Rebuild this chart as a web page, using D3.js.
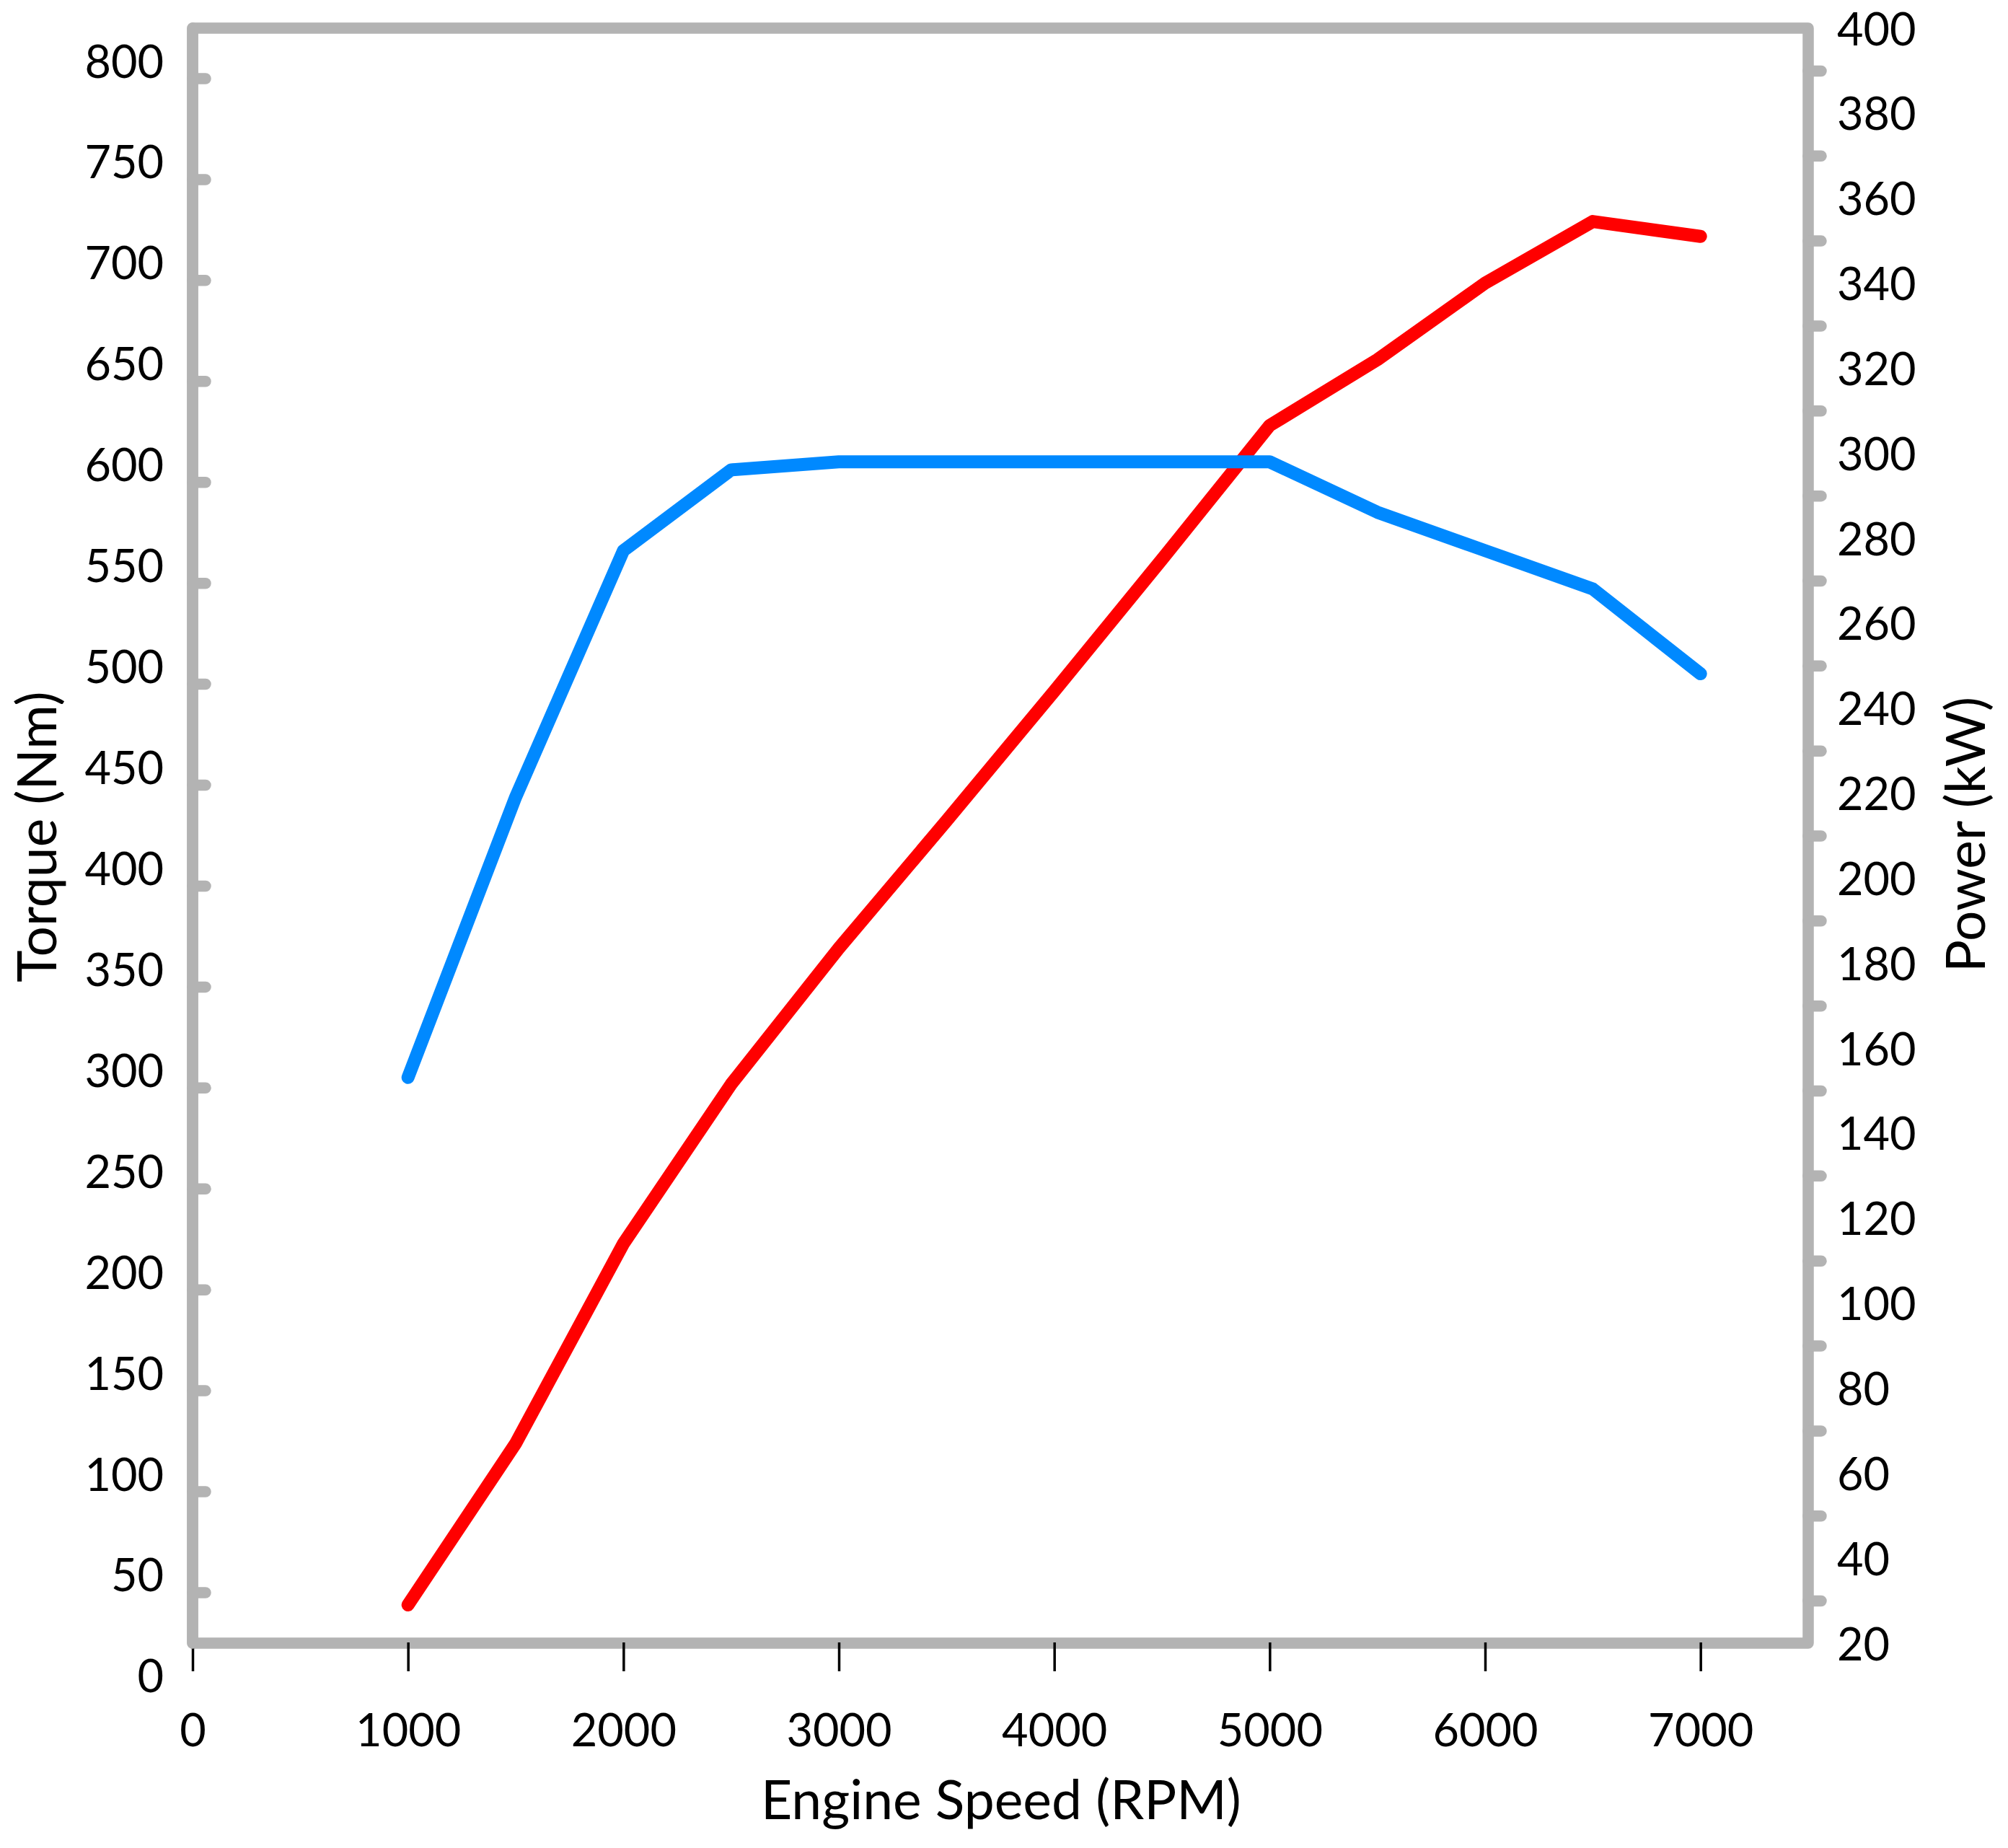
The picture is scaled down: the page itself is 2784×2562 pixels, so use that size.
<!DOCTYPE html>
<html>
<head>
<meta charset="utf-8">
<script src="https://cdn.jsdelivr.net/npm/d3@7"></script>
<style>
    body { margin: 0; background: white; }
    text { font-family: Lato, "Open Sans", sans-serif; fill: black; }
</style>
</head>
<body>
<div id="chart"></div>
<script>
// Engine speed (RPM) sample points
var rpm = [1000, 1500, 2000, 2500, 3000, 3500, 4000, 4500, 5000, 5500, 6000, 6500, 7000];
// Torque curve (Nm), left axis
var torqueNm = [305, 444, 566, 606, 610, 610, 610, 610, 610, 585, 566, 547, 505];
// Power curve (kW), right axis
var powerKw = [29, 67, 114, 151.5, 183.5, 213.5, 244, 275, 306.5, 322, 340, 354.5, 351];

// Tick labels
var rpmTicks = [0, 1000, 2000, 3000, 4000, 5000, 6000, 7000];
var torqueTicks = [0, 50, 100, 150, 200, 250, 300, 350, 400, 450, 500, 550, 600, 650, 700, 750, 800];
var torqueStubs = [50, 100, 150, 200, 250, 300, 350, 400, 450, 500, 550, 600, 650, 700, 750, 800];
var powerTicks = [20, 40, 60, 80, 100, 120, 140, 160, 180, 200, 220, 240, 260, 280, 300, 320, 340, 360, 380, 400];
var powerStubs = [30, 50, 70, 90, 110, 130, 150, 170, 190, 210, 230, 250, 270, 290, 310, 330, 350, 370, 390];

var width = 2784;
var height = 2562;
var frameColor = "#b3b3b3";
var frameWidth = 15.5;

var svg = d3.select("#chart").append("svg")
    .attr("width", width)
    .attr("height", height);

svg.append("rect")
    .attr("width", width)
    .attr("height", height)
    .attr("fill", "white");

// Scales
var x = d3.scaleLinear().domain([0, 7500]).range([267, 2507]);
var yTorque = d3.scaleLinear().domain([0, 800]).range([2347.4, 108.5]);
var yPower = d3.scaleLinear().domain([20, 400]).range([2278, 39]);

// plot box edges (don't call these top/left, they clash with window props)
var boxLeft = x(0), boxRight = x(7500), boxTop = yPower(400), boxBottom = yPower(20);

// Gray frame around the plot
svg.append("path")
    .attr("d", `M${boxLeft},${boxTop}H${boxRight}V${boxBottom}H${boxLeft}Z`)
    .attr("fill", "none")
    .attr("stroke", frameColor)
    .attr("stroke-width", frameWidth)
    .attr("stroke-linejoin", "round");

// Small gray stubs on the left axis (pointing into the plot)
var leftStubs = svg.append("g")
    .attr("transform", `translate(${boxLeft},0)`)
    .call(d3.axisRight(yTorque).tickValues(torqueStubs).tickSize(18).tickFormat(""));
leftStubs.select(".domain").remove();
leftStubs.selectAll("line")
    .attr("stroke", frameColor)
    .attr("stroke-width", frameWidth)
    .attr("stroke-linecap", "round");

// Small gray stubs on the right axis (pointing out)
var rightStubs = svg.append("g")
    .attr("transform", `translate(${boxRight},0)`)
    .call(d3.axisRight(yPower).tickValues(powerStubs).tickSize(18).tickFormat(""));
rightStubs.select(".domain").remove();
rightStubs.selectAll("line")
    .attr("stroke", frameColor)
    .attr("stroke-width", frameWidth)
    .attr("stroke-linecap", "round");

// Left labels (torque)
var leftAxis = svg.append("g")
    .attr("transform", "translate(227,0)")
    .call(d3.axisLeft(yTorque).tickValues(torqueTicks).tickSize(0).tickPadding(0).tickFormat(d3.format("d")));
leftAxis.select(".domain").remove();
leftAxis.selectAll("text")
    .attr("x", 0)
    .attr("dy", "-1.5")
    .attr("font-size", 63)
    .attr("font-family", "Lato");

// Right labels (power)
var rightAxis = svg.append("g")
    .attr("transform", "translate(2547,0)")
    .call(d3.axisRight(yPower).tickValues(powerTicks).tickSize(0).tickPadding(0).tickFormat(d3.format("d")));
rightAxis.select(".domain").remove();
rightAxis.selectAll("text")
    .attr("x", 0)
    .attr("dy", "23")
    .attr("font-size", 63)
    .attr("font-family", "Lato");

// Line generators
var torqueLine = d3.line()
    .x((d, i) => x(rpm[i]))
    .y(d => yTorque(d));

var powerLine = d3.line()
    .x((d, i) => x(rpm[i]))
    .y(d => yPower(d));

svg.append("path")
    .datum(powerKw)
    .attr("d", powerLine)
    .attr("fill", "none")
    .attr("stroke", "#ff0000")
    .attr("stroke-width", 18)
    .attr("stroke-linecap", "round")
    .attr("stroke-linejoin", "round");

svg.append("path")
    .datum(torqueNm)
    .attr("d", torqueLine)
    .attr("fill", "none")
    .attr("stroke", "#0089ff")
    .attr("stroke-width", 18)
    .attr("stroke-linecap", "round")
    .attr("stroke-linejoin", "round");

// Bottom axis: black ticks below the frame
var xAxis = svg.append("g")
    .attr("transform", "translate(0,2277)")
    .call(d3.axisBottom(x).tickValues(rpmTicks).tickSize(40).tickPadding(0).tickFormat(d3.format("d")));
xAxis.select(".domain").remove();
xAxis.selectAll("line")
    .attr("stroke", "black")
    .attr("stroke-width", 3.5);
xAxis.selectAll("text")
    .attr("y", 144)
    .attr("dy", 0)
    .attr("font-size", 63)
    .attr("font-family", "Lato");

// left edge of frame on top so the 0 tick starts below it
svg.append("line")
    .attr("x1", boxLeft).attr("x2", boxLeft)
    .attr("y1", boxTop).attr("y2", boxBottom)
    .attr("stroke", frameColor)
    .attr("stroke-width", frameWidth)
    .attr("stroke-linecap", "round");

// Axis titles
svg.append("text")
    .attr("x", 1388)
    .attr("y", 2522)
    .attr("text-anchor", "middle")
    .attr("font-size", 75)
    .text("Engine Speed (RPM)");

svg.append("text")
    .attr("transform", "translate(78,1160) rotate(-90)")
    .attr("text-anchor", "middle")
    .attr("font-size", 75)
    .text("Torque (Nm)");

svg.append("text")
    .attr("transform", "translate(2752,1157) rotate(-90)")
    .attr("text-anchor", "middle")
    .attr("font-size", 75)
    .text("Power (kW)");
</script>
</body>
</html>
